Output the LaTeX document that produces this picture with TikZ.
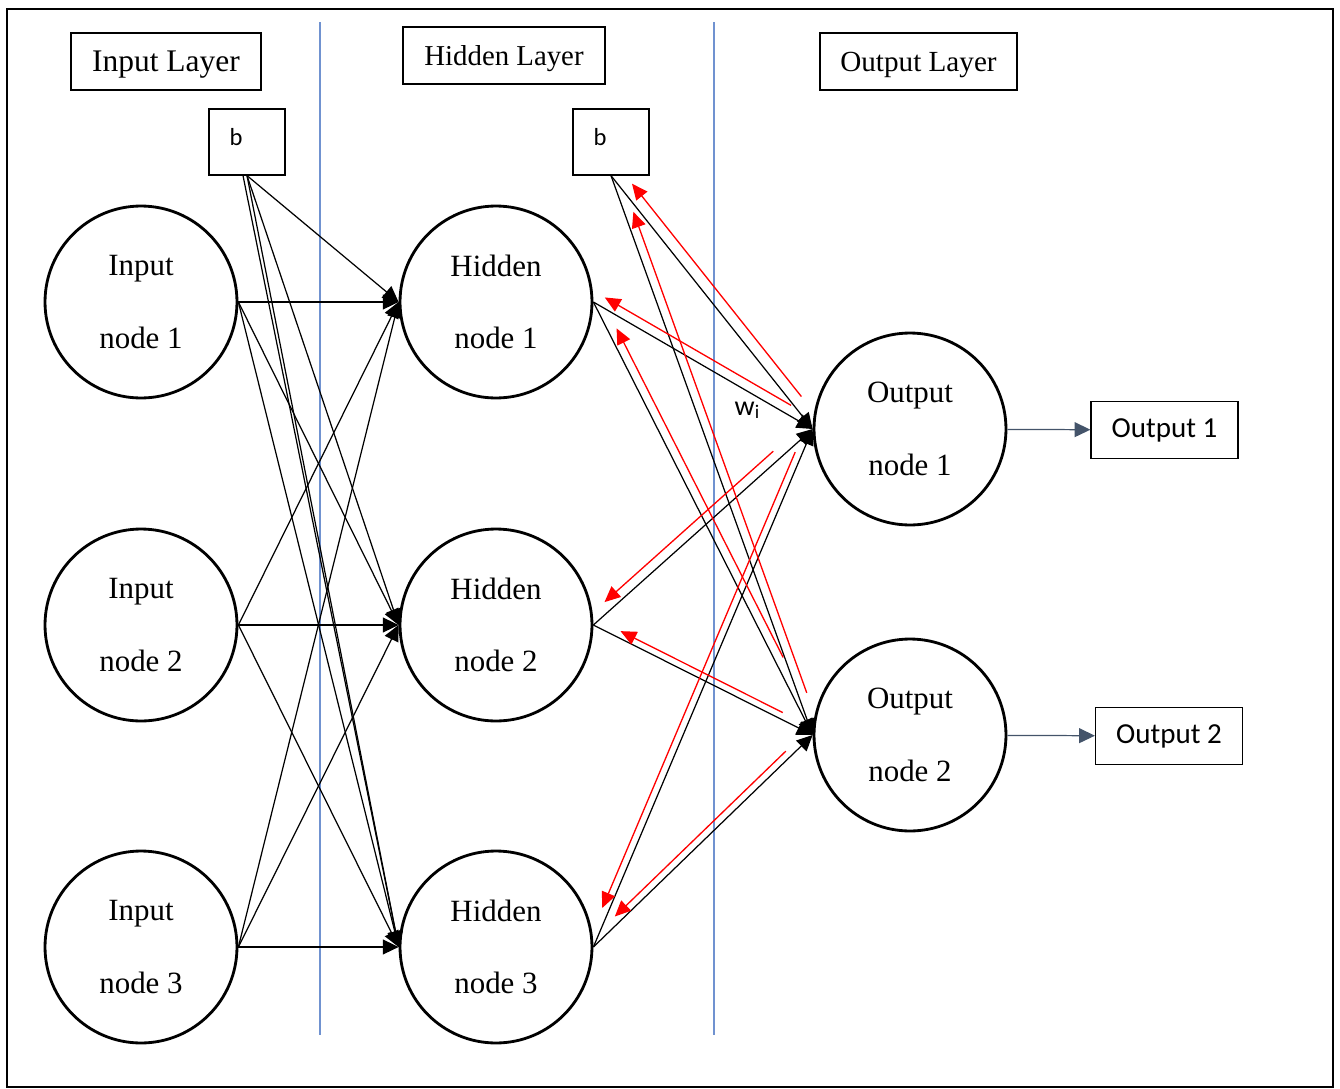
\documentclass[tikz,border=0pt]{standalone}
\usepackage{fontspec}
\setmainfont{Liberation Serif}
\setsansfont{Carlito}
\usetikzlibrary{arrows.meta,calc}
\definecolor{layerblue}{RGB}{112,146,208}
\definecolor{slate}{RGB}{68,84,106}

\begin{document}
\begin{tikzpicture}[x=0.02cm,y=-0.02cm,line width=0.7pt,
      >={Triangle[length=9pt,width=8.5pt]},
      neuron/.style={draw,circle,line width=1.6pt,minimum size=3.84cm,inner sep=0pt,
        align=center,font=\fontsize{17.6}{41.4}\selectfont},
      layerbox/.style={draw,minimum height=1.14cm,inner sep=0pt,text depth=0pt},
      biasbox/.style={draw,minimum width=1.52cm,minimum height=1.32cm,inner sep=0pt},
      outbox/.style={draw,minimum width=2.94cm,minimum height=1.14cm,inner sep=0pt,
        font=\sffamily\fontsize{16.5}{20}\selectfont},
      backprop/.style={red,line width=0.75pt,-{Triangle[length=9pt,width=8pt]}}]
  \useasboundingbox (0,0) rectangle (1340,1089);
  \draw[line width=0.6pt] (7,9) rectangle (1333,1087);
  \draw[layerblue,line width=0.6pt] (320,22)--(320,1035) (714,22)--(714,1035);

  \node[layerbox,minimum width=3.8cm,font=\fontsize{17.9}{20}\selectfont] (inlayer) at (166,61.5) {Input Layer};
  \node[layerbox,minimum width=4.04cm,font=\fontsize{16.4}{20}\selectfont] (hidlayer) at (504,55.5) {Hidden Layer};
  \node[layerbox,minimum width=3.94cm,font=\fontsize{16.6}{20}\selectfont] (outlayer) at (918.5,61.5) {Output Layer};

  \node[biasbox,label={[xshift=-0.22cm,yshift=0.1cm,font=\sffamily\fontsize{14}{16}\selectfont]center:b}] (b1) at (247,142) {};
  \node[biasbox,label={[xshift=-0.22cm,yshift=0.1cm,font=\sffamily\fontsize{14}{16}\selectfont]center:b}] (b2) at (611,142) {};

  \foreach \n/\y in {1/302,2/625,3/947}{
    \node[neuron] (i\n) at (141,\y) {Input\\node \n};
    \node[neuron] (h\n) at (496,\y) {Hidden\\node \n};
  }
  \node[neuron] (o1) at (910,429) {Output\\node 1};
  \node[neuron] (o2) at (910,735) {Output\\node 2};

  \node[outbox] (y1) at (1164.5,430) {Output 1};
  \node[outbox] (y2) at (1169,736) {Output 2};
  \node[font=\sffamily\fontsize{16}{18}\selectfont] (wlabel) at (747,410) {w\raisebox{-0.2ex}{\fontsize{11}{12}\selectfont i}};

  \foreach \i in {1,2,3}{
    \foreach \h in {1,2,3}{\draw[->] (i\i.east)--(h\h.west);}
    \draw[->] (b1.south)--(h\i.west);
    \foreach \out in {1,2}{\draw[->] (h\i.east)--(o\out.west);}
  }
  \draw[->] ($(b1.south)+(-4,0)$)--(h3.west);
  \draw[->] (b2.south)--(o1.west);
  \draw[->] (b2.south)--(o2.west);

  \draw[->,slate] (o1)--(y1);
  \draw[->,slate] (o2)--(y2);

  \foreach \out/\src/\p/\q/\off in {o1/b2.south/.10/.06/6.5pt,o1/h1.east/.12/.03/5.5pt,
      o2/b2.south/.07/.07/5pt,o2/h1.east/.17/.07/5pt,o1/h2.east/.15/.08/5.5pt,
      o2/h2.east/.15/.11/3.8pt,o1/h3.east/.05/.07/4pt,o2/h3.east/.10/.12/4pt}{
    \coordinate (s) at ($(\out.west)!\p!(\src)$);
    \coordinate (t) at ($(\src)!\q!(\out.west)$);
    \draw[backprop] ($(s)!\off!-90:(t)$)--($(t)!\off!90:(s)$);
  }
\end{tikzpicture}
\end{document}
